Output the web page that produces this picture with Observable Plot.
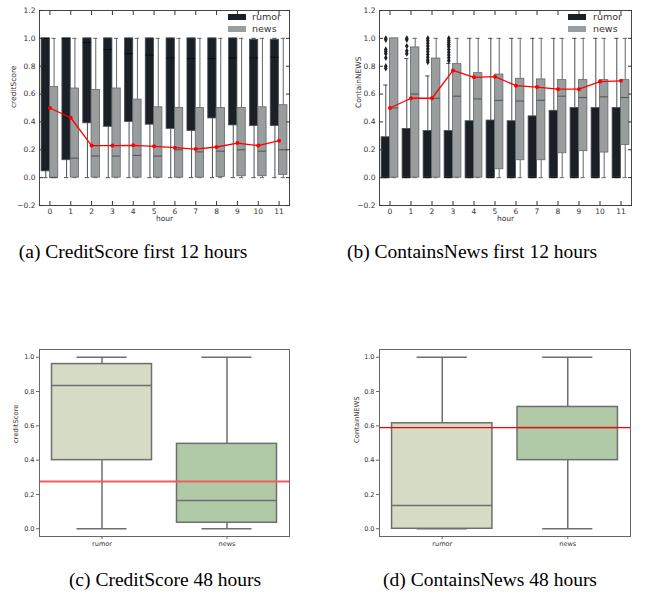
<!DOCTYPE html>
<html><head><meta charset="utf-8">
<script src="https://cdn.jsdelivr.net/npm/d3@7"></script>
<script src="https://cdn.jsdelivr.net/npm/@observablehq/plot@0.6"></script>
<style>
body{margin:0;background:#fff;}
#wrap{position:relative;width:656px;height:598px;overflow:hidden;font-family:"DejaVu Sans",sans-serif;background:#fff;}
.panel{position:absolute;}
.cap{position:absolute;font-family:"Liberation Serif","Times New Roman",serif;font-size:19.5px;line-height:22px;color:#000;white-space:nowrap;transform:translateX(-50%);}
.leg{position:absolute;font-size:9.5px;line-height:12px;color:#333;font-family:"DejaVu Sans",sans-serif;}
.sw{position:absolute;width:18px;height:5.5px;}
</style></head><body><div id="wrap"></div>
<script>
// ---------- data ----------
const hours = [0,1,2,3,4,5,6,7,8,9,10,11];
const yTicksTop = [-0.2,0,0.2,0.4,0.6,0.8,1.0,1.2];
const yTicksBottom = [0,0.2,0.4,0.6,0.8,1.0];
const groups = ["rumor","news"];

// (a) creditScore, first 12 hours
const aRumorLo  = [0,0,0,0,0,0,0,0,0,0,0,0];
const aRumorQ1  = [0.045,0.125,0.39,0.365,0.40,0.38,0.35,0.335,0.425,0.375,0.37,0.37];
const aRumorMed = [1.0,1.0,0.97,0.92,0.89,0.88,0.86,0.855,0.855,0.86,0.86,0.865];
const aRumorQ3  = [1,1,1,1,1,1,1,1,1,1,0.99,0.99];
const aRumorHi  = [1,1,1,1,1,1,1,1,1,1,1,1];
const aNewsLo   = [0,0,0,0,0,0,0,0,0,0,0,0];
const aNewsQ1   = [0,0,0,0,0,0,0,0,0.005,0.01,0.01,0.02];
const aNewsMed  = [0,0.14,0.155,0.155,0.16,0.155,0.2,0.185,0.19,0.2,0.19,0.2];
const aNewsQ3   = [0.65,0.64,0.63,0.64,0.56,0.505,0.50,0.50,0.50,0.50,0.505,0.52];
const aNewsHi   = [1,1,1,1,1,1,1,1,1,1,1,1];
const aMean     = [0.50,0.43,0.23,0.23,0.232,0.225,0.215,0.205,0.22,0.248,0.23,0.265];

// (b) ContainNEWS, first 12 hours
const bRumorLo  = [0,0,0,0,0,0,0,0,0,0,0,0];
const bRumorQ1  = [0,0,0,0,0,0,0,0,0,0,0,0];
const bRumorMed = [0,0,0,0,0,0,0,0,0,0,0,0];
const bRumorQ3  = [0.29,0.35,0.335,0.335,0.405,0.41,0.405,0.44,0.48,0.50,0.50,0.50];
const bRumorHi  = [0.665,0.855,0.73,0.82,1,1,1,1,1,1,1,1];
const bNewsLo   = [0,0,0,0,0,0,0,0,0,0,0,0];
const bNewsQ1   = [0,0,0,0,0,0.06,0.125,0.125,0.175,0.19,0.18,0.235];
const bNewsMed  = [0.5,0.60,0.57,0.585,0.565,0.555,0.55,0.555,0.585,0.575,0.58,0.575];
const bNewsQ3   = [1.0,0.935,0.855,0.815,0.75,0.74,0.71,0.705,0.70,0.70,0.70,0.70];
const bNewsHi   = [1,1,1,1,1,1,1,1,1,1,1,1];
const bMean     = [0.50,0.57,0.57,0.77,0.72,0.725,0.66,0.65,0.635,0.635,0.69,0.695];
const bOutlierHour  = [0,0,0,0,0,0,0,0, 1,1,1,1,1, 2,2,2,2,2,2,2,2,2,2, 3,3,3,3,3,3,3,3,3,3];
const bOutlierValue = [1.0,0.99,0.92,0.905,0.89,0.86,0.80,0.785,
                       1.0,0.99,0.945,0.91,0.89,
                       1.0,0.985,0.965,0.945,0.925,0.905,0.885,0.865,0.845,0.83,
                       1.0,0.985,0.97,0.955,0.94,0.92,0.90,0.88,0.86,0.84];

// (c) creditScore, 48 hours
const cLo  = [0,0];
const cQ1  = [0.40,0.035];
const cMed = [0.835,0.165];
const cQ3  = [0.96,0.495];
const cHi  = [1,1];
const cMean = 0.275;

// (d) ContainNEWS, 48 hours
const dLo  = [0,0];
const dQ1  = [0,0.40];
const dMed = [0.135,0.59];
const dQ3  = [0.615,0.71];
const dHi  = [1,1];
const dMean = 0.59;

// ---------- styles ----------
const topStyle = {
  rumor: {fill:"#1b2027", line:"#4a4e53", median:"#0b0d10"},
  news:  {fill:"#999d9e", line:"#62676a", median:"#4e5254"}
};
const botFill = {rumor:"#d5dbc5", news:"#b0c9a7"};
const botLine = "#6e6e6e";

function topRows(rLo,rQ1,rMed,rQ3,rHi,nLo,nQ1,nMed,nQ3,nHi){
  const rows = [];
  hours.forEach((h,i)=>{
    rows.push({h, g:"rumor", c:h-0.2, lo:rLo[i], q1:rQ1[i], med:rMed[i], q3:rQ3[i], hi:rHi[i]});
    rows.push({h, g:"news",  c:h+0.2, lo:nLo[i], q1:nQ1[i], med:nMed[i], q3:nQ3[i], hi:nHi[i]});
  });
  return rows;
}

function topPanel({width,height,mL,mR,mT,mB,rows,mean,outliers,ylabel,labelDx}){
  const fmt = d3.format(".1f");
  const marks = [
    Plot.ruleX(rows,{x:"c", y1:"q3", y2:"hi", stroke:d=>topStyle[d.g].line, strokeWidth:1}),
    Plot.ruleX(rows,{x:"c", y1:"lo", y2:"q1", stroke:d=>topStyle[d.g].line, strokeWidth:1}),
    Plot.ruleY(rows,{y:"hi", x1:d=>d.c-0.1, x2:d=>d.c+0.1, stroke:d=>topStyle[d.g].line, strokeWidth:1}),
    Plot.ruleY(rows,{y:"lo", x1:d=>d.c-0.1, x2:d=>d.c+0.1, stroke:d=>topStyle[d.g].line, strokeWidth:1}),
    Plot.rect(rows,{x1:d=>d.c-0.2, x2:d=>d.c+0.2, y1:"q1", y2:"q3", fill:d=>topStyle[d.g].fill, stroke:d=>topStyle[d.g].line, strokeWidth:0.8}),
    Plot.ruleY(rows,{y:"med", x1:d=>d.c-0.2, x2:d=>d.c+0.2, stroke:d=>topStyle[d.g].median, strokeWidth:1}),
  ];
  if (outliers) marks.push(Plot.dot(outliers,{x:d=>d.h-0.2, y:"v", symbol:"diamond", r:1.9, fill:"#1b2027", stroke:"none"}));
  marks.push(
    Plot.line(hours,{x:d=>d, y:(d,i)=>mean[i], stroke:"#ff0000", strokeWidth:1.3}),
    Plot.dot(hours,{x:d=>d, y:(d,i)=>mean[i], fill:"#ff0000", r:2, stroke:"none"}),
    Plot.frame({stroke:"#333", strokeWidth:0.9}),
    Plot.axisY(yTicksTop,{anchor:"left", tickSize:-4, fill:"none", stroke:"#333", label:null}),
    Plot.axisY(yTicksTop,{anchor:"right", tickSize:-4, fill:"none", stroke:"#333", label:null}),
    Plot.axisX(hours,{anchor:"bottom", tickSize:-4, fill:"none", stroke:"#333", label:null}),
    Plot.axisX(hours,{anchor:"top", tickSize:-4, fill:"none", stroke:"#333", label:null}),
    Plot.axisY(yTicksTop,{anchor:"left", tickSize:0, tickPadding:4, stroke:"none", fill:"#333", tickFormat:fmt, label:null}),
    Plot.axisX(hours,{anchor:"bottom", tickSize:0, tickPadding:3, stroke:"none", fill:"#333", tickFormat:d=>String(d), label:null}),
    Plot.text(["hour"],{frameAnchor:"bottom", dy:15, fill:"#333", fontSize:7.5}),
    Plot.text([ylabel],{frameAnchor:"left", dx:labelDx, rotate:-90, fill:"#333", fontSize:7.5})
  );
  return Plot.plot({
    width, height, marginLeft:mL, marginRight:mR, marginTop:mT, marginBottom:mB,
    style:{fontFamily:"DejaVu Sans", fontSize:"7.5px", color:"#333", background:"transparent", overflow:"visible"},
    x:{domain:[-0.5,11.5], label:null}, y:{domain:[-0.2,1.2], label:null},
    color:{type:"identity"},
    marks
  });
}

function botPanel({width,height,mL,mR,mT,mB,lo,q1,med,q3,hi,mean,meanStroke,meanWidth,ylabel,labelDx}){
  const rows = groups.map((g,i)=>({g, i, lo:lo[i], q1:q1[i], med:med[i], q3:q3[i], hi:hi[i]}));
  return Plot.plot({
    width, height, marginLeft:mL, marginRight:mR, marginTop:mT, marginBottom:mB,
    style:{fontFamily:"DejaVu Sans", fontSize:"6.5px", color:"#333", background:"transparent", overflow:"visible"},
    x:{domain:[-0.5,1.5], label:null}, y:{domain:[-0.045,1.045], label:null},
    color:{type:"identity"},
    marks:[
      Plot.ruleX(rows,{x:"i", y1:"q3", y2:"hi", stroke:botLine, strokeWidth:1.5}),
      Plot.ruleX(rows,{x:"i", y1:"lo", y2:"q1", stroke:botLine, strokeWidth:1.5}),
      Plot.ruleY(rows,{y:"hi", x1:d=>d.i-0.2, x2:d=>d.i+0.2, stroke:botLine, strokeWidth:1.5}),
      Plot.ruleY(rows,{y:"lo", x1:d=>d.i-0.2, x2:d=>d.i+0.2, stroke:botLine, strokeWidth:1.5}),
      Plot.rect(rows,{x1:d=>d.i-0.4, x2:d=>d.i+0.4, y1:"q1", y2:"q3", fill:d=>botFill[d.g], stroke:botLine, strokeWidth:1.5}),
      Plot.ruleY(rows,{y:"med", x1:d=>d.i-0.4, x2:d=>d.i+0.4, stroke:botLine, strokeWidth:1.5}),
      Plot.ruleY([mean],{stroke:meanStroke, strokeWidth:meanWidth}),
      Plot.frame({stroke:"#666", strokeWidth:1}),
      Plot.axisY(yTicksBottom,{anchor:"left", tickSize:3, tickPadding:2, stroke:"#666", fill:"#333", tickFormat:d3.format(".1f"), label:null}),
      Plot.axisX([0,1],{anchor:"bottom", tickSize:3, tickPadding:2, stroke:"#666", fill:"#333", tickFormat:i=>groups[i], label:null}),
      Plot.text([ylabel],{frameAnchor:"left", dx:labelDx, rotate:-90, fill:"#333", fontSize:6.8})
    ]
  });
}

const wrap = document.getElementById("wrap");
function place(el,left,top){ const d=document.createElement("div"); d.className="panel"; d.style.left=left+"px"; d.style.top=top+"px"; d.appendChild(el); wrap.appendChild(d); }

place(topPanel({width:326,height:230,mL:39,mR:37,mT:10,mB:25,
  rows:topRows(aRumorLo,aRumorQ1,aRumorMed,aRumorQ3,aRumorHi,aNewsLo,aNewsQ1,aNewsMed,aNewsQ3,aNewsHi),
  mean:aMean, outliers:null, ylabel:"creditScore", labelDx:-26}),0,0);

const bOut = bOutlierHour.map((h,i)=>({h, v:bOutlierValue[i]}));
place(topPanel({width:330,height:230,mL:53,mR:25,mT:10,mB:25,
  rows:topRows(bRumorLo,bRumorQ1,bRumorMed,bRumorQ3,bRumorHi,bNewsLo,bNewsQ1,bNewsMed,bNewsQ3,bNewsHi),
  mean:bMean, outliers:bOut, ylabel:"ContainNEWS", labelDx:-21}),326,0);

place(botPanel({width:326,height:225,mL:39,mR:37,mT:19,mB:19,lo:cLo,q1:cQ1,med:cMed,q3:cQ3,hi:cHi,
  mean:cMean, meanStroke:"#f25c5c", meanWidth:2, ylabel:"creditScore", labelDx:-24}),0,330);
place(botPanel({width:330,height:225,mL:53,mR:26,mT:19,mB:19,lo:dLo,q1:dQ1,med:dMed,q3:dQ3,hi:dHi,
  mean:dMean, meanStroke:"#ff0000", meanWidth:1.2, ylabel:"ContainNEWS", labelDx:-23}),326,330);

function legend(swLeft, txtLeft){
  [["rumor",topStyle.rumor.fill,14],["news",topStyle.news.fill,26]].forEach(([t,c,y])=>{
    const s=document.createElement("div"); s.className="sw"; s.style.left=swLeft+"px"; s.style.top=y+"px"; s.style.background=c; wrap.appendChild(s);
    const l=document.createElement("div"); l.className="leg"; l.style.left=txtLeft+"px"; l.style.top=(y-3.5)+"px"; l.textContent=t; wrap.appendChild(l);
  });
}
legend(228,252);
legend(568,593);

[["(a) CreditScore first 12 hours",133,241],["(b) ContainsNews first 12 hours",472,241],
 ["(c) CreditScore 48 hours",165,569],["(d) ContainsNews 48 hours",490,569]].forEach(([t,x,y])=>{
  const c=document.createElement("div"); c.className="cap"; c.style.left=x+"px"; c.style.top=y+"px"; c.textContent=t; wrap.appendChild(c);
});
</script></body></html>
